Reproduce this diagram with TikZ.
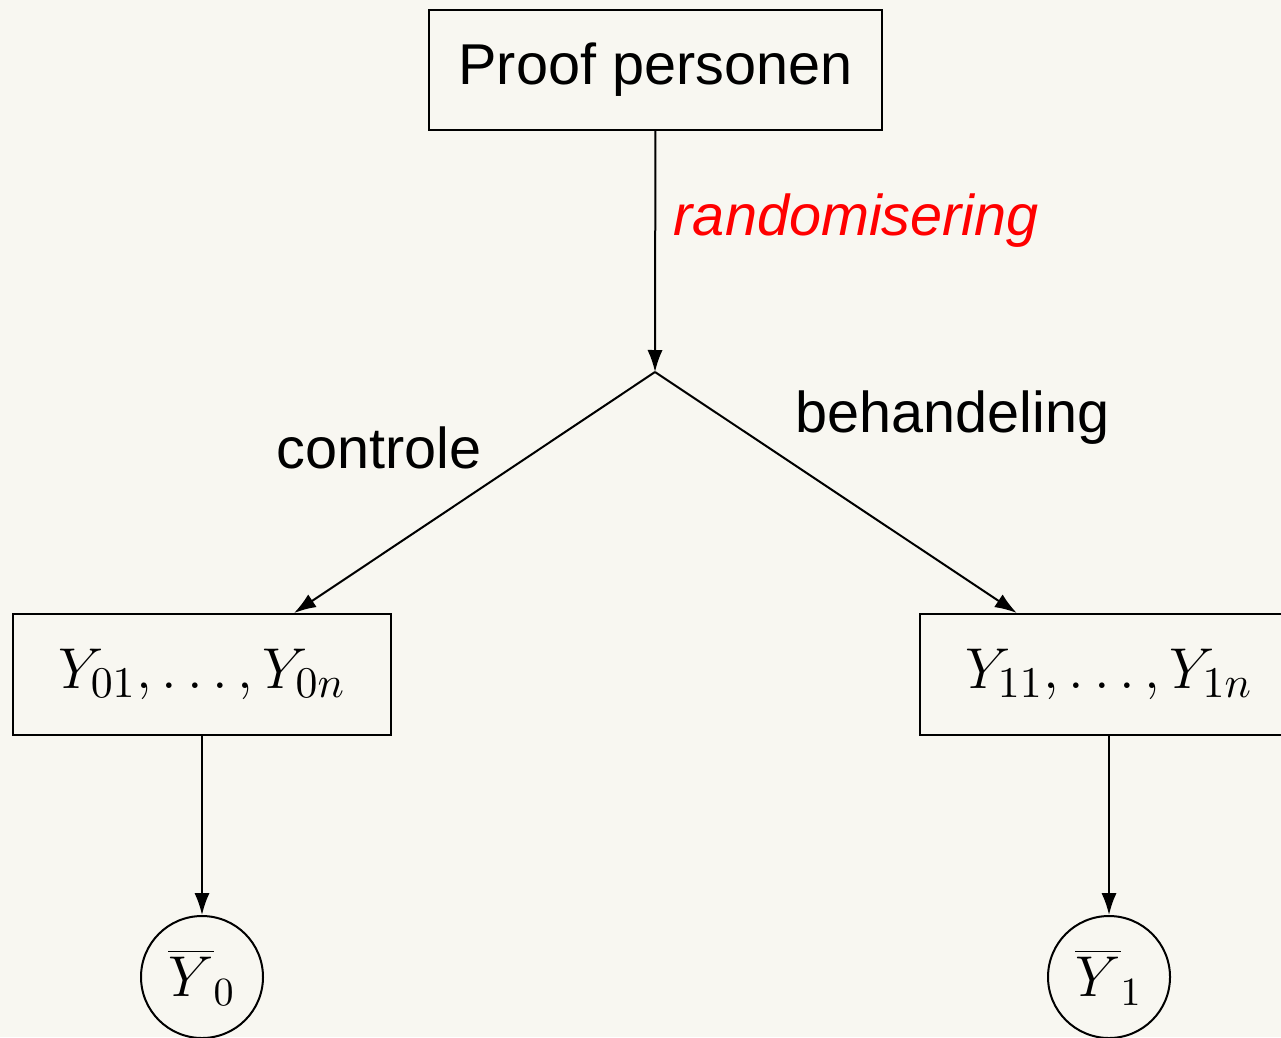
\documentclass[tikz,border=0pt]{standalone}
\usepackage[no-math]{fontspec}
\setmainfont{Liberation Sans}
\usetikzlibrary{arrows.meta}
\definecolor{bgcol}{RGB}{248,247,241}
\begin{document}
\begin{tikzpicture}[x=0.25pt,y=-0.25pt,
  every node/.style={font=\fontsize{14.4}{17}\selectfont},
  box/.style={draw,line width=0.5pt,inner sep=0pt},
  mathbox/.style={box,minimum width=94.5pt,minimum height=30.25pt,font=\fontsize{15.5}{18}\selectfont},
  circ/.style={draw,circle,line width=0.5pt,inner sep=0pt,minimum size=30.5pt},
  conn/.style={line width=0.5pt,-{Latex[length=5.5pt,width=3.8pt]}},
  lbl/.style={anchor=base west,inner sep=0pt}]
\fill[bgcol] (0,0) rectangle (1281,1037);
\useasboundingbox (0,0) rectangle (1281,1037);
\clip (0,0) rectangle (1281,1037);
\node[box,minimum width=113.25pt,minimum height=30pt] (top) at (655.5,70) {Proof personen};
\coordinate (junc) at (655,372);
\node[mathbox] (left) at (202,674.5) {$Y_{01},\ldots,Y_{0n}$};
\node[mathbox] (right) at (1109,674.5) {$Y_{11},\ldots,Y_{1n}$};
\node[circ] (m0) at (202,977) {$\overline{Y}_0$};
\node[circ] (m1) at (1109,977) {$\overline{Y}_1$};
\draw[conn] (top) -- (junc);
\draw[conn] (junc) -- (left);
\draw[conn] (junc) -- (right);
\draw[conn] (left) -- (m0);
\draw[conn] (right) -- (m1);
\node[lbl,text=red,font=\fontsize{14.4}{17}\selectfont\itshape] (rand) at (673,235) {randomisering};
\node[lbl] (ctrl) at (276,468) {controle};
\node[lbl] (beh) at (795,432) {behandeling};
\end{tikzpicture}
\end{document}
